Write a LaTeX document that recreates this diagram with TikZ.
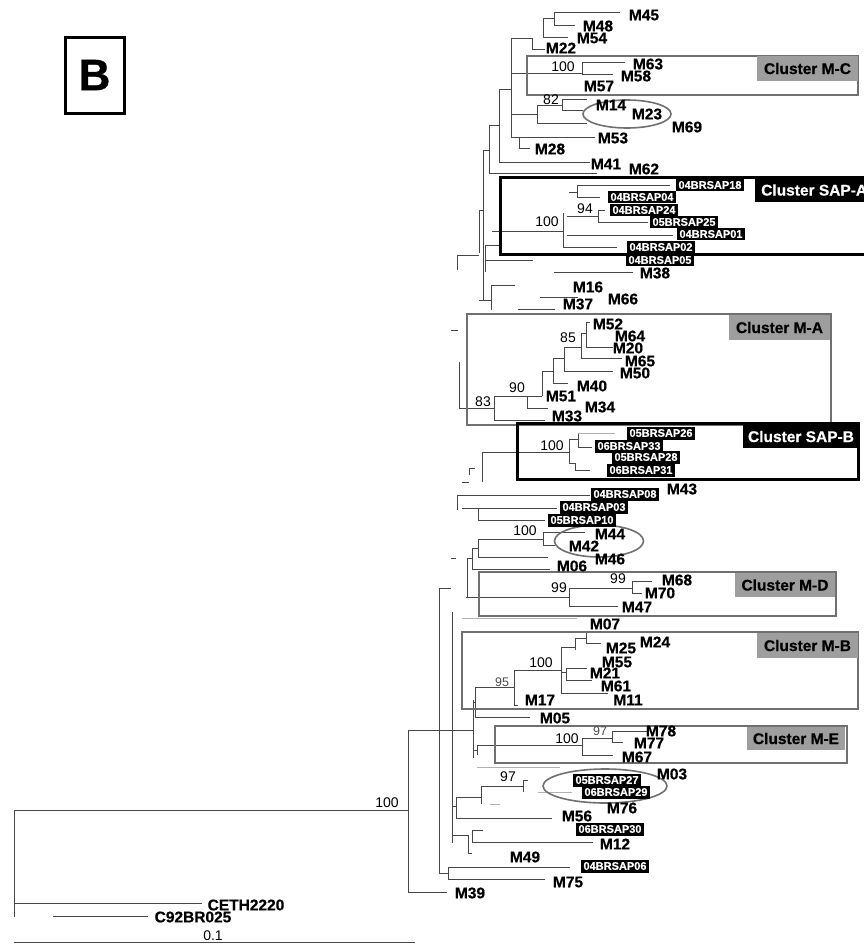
\documentclass[tikz,border=0pt]{standalone}
\usepackage{fontspec}
\setmainfont{Liberation Sans}
\setsansfont{Liberation Sans}[BoldFeatures={FakeBold=0.6}]
\usetikzlibrary{shapes.geometric}
\definecolor{brgray}{HTML}{474747}
\definecolor{boxgray}{HTML}{707070}
\definecolor{lblgray}{HTML}{9E9E9E}

\begin{document}
\begin{tikzpicture}[
        x=1pt, y=-1pt,
        font=\sffamily,
        br/.style={draw=brgray, line width=0.8pt},
        brl/.style={draw=black!30, line width=0.8pt},
        leaf/.style={font=\sffamily\bfseries\fontsize{15.5}{15.5}\selectfont, inner sep=0pt},
        sap/.style={fill=black, text=white, font=\sffamily\bfseries\fontsize{11}{12}\selectfont, inner xsep=2.5pt, inner ysep=2.6pt},
        boot/.style={font=\sffamily\fontsize{14}{14}\selectfont, inner sep=0pt},
        bootsm/.style={font=\sffamily\fontsize{12.5}{12.5}\selectfont, text=black!70, inner sep=0pt},
        mbox/.style={draw=boxgray, line width=2.4pt},
        sapbox/.style={draw=black, line width=3pt},
        mlbl/.style={fill=lblgray, font=\sffamily\bfseries\fontsize{15.5}{15.5}\selectfont, inner sep=0pt, minimum width=101pt, minimum height=25pt},
        saplbl/.style={fill=black, text=white, font=\sffamily\bfseries\fontsize{15.5}{15.5}\selectfont, inner sep=0pt, minimum height=24pt},
        ring/.style={ellipse, draw=boxgray, line width=1.6pt, inner sep=0pt}
    ]
    \useasboundingbox (0,0) rectangle (864,945);
    \clip (0,0) rectangle (864,945);

    % branches
    \foreach \xa/\ya/\xb/\yb in {
        554/12/620/12, 554/12/554/25, 554/25/575/25, 543/18/554/18, 543/18/543/37, 543/37/568/37,
        511/38/532/38, 532/38/532/49, 532/49/545/49, 511/38/511/137, 511/137/595/137, 519/137/519/148, 519/148/530/148,
        511/73/582/73, 582/62/582/74, 582/62/625/62, 582/74/613/74,
        511/114/537/114, 537/105/537/123, 537/123/587/123, 537/105/562/105, 562/99/562/110, 562/99/587/99, 562/110/583/110,
        499/89/511/89, 499/89/499/162, 499/162/590/162, 489/125/499/125, 489/125/489/173, 489/173/597/173,
        483/150/489/150, 483/150/483/300, 479/210/483/210, 479/210/479/253, 457/255/479/255, 457/255/457/270,
        492/231/563/231, 563/213/563/247, 563/247/617/247, 567/216/598/216, 598/210/598/222, 598/222/648/222,
        598/210/605/210, 567/235/673/235, 569/192/577/192, 577/185/577/197, 577/185/670/185, 577/197/600/197,
        485/245/485/272, 485/245/500/245, 485/260/533/260, 554/272/633/272,
        491/285/515/285, 491/285/491/310, 479/300/491/300, 540/297/578/297, 518/309/555/309, 451/330/458/330,
        459/362/459/408, 459/408/494/408, 494/396/494/420, 494/420/545/420, 494/396/527/396, 527/396/527/408,
        527/408/548/408, 527/396/542/396, 542/371/542/396, 542/371/553/371, 553/358/553/383, 553/383/568/383,
        553/358/564/358, 564/347/564/371, 564/371/613/371, 564/347/581/347, 581/333/581/358, 581/358/622/358,
        581/333/586/333, 586/322/586/347, 586/347/613/347, 586/322/590/322,
        482/452/569/452, 482/452/482/482, 569/439/569/463, 569/439/578/439, 578/433/578/447, 578/447/592/447,
        569/463/575/463, 575/463/575/470, 575/470/590/470,
        469/468/475/468, 469/468/469/475, 462/482/469/482,
        457/495/590/495, 457/495/457/510, 462/508/478/508, 478/508/478/520, 478/508/557/508, 478/520/545/520,
        478/539/478/557, 478/539/543/539, 543/532/543/545, 543/532/585/532, 543/545/555/545, 478/557/548/557,
        472/548/472/570, 472/548/478/548, 472/569/550/569, 467/558/467/597, 467/558/472/558, 451/558/456/558,
        466/597/569/597, 569/588/569/606, 569/588/632/588, 632/581/632/593, 632/581/652/581, 632/593/642/593, 569/606/618/606,
        439/588/451/588, 439/588/439/873, 439/730/473/730, 452/612/452/843,
        473/700/473/758, 473/702/475/702, 475/687/475/717, 475/687/514/687, 475/717/530/717, 514/670/514/705,
        514/705/518/705, 514/670/561/670, 561/647/561/693, 561/693/608/693, 561/647/575/647, 575/638/575/650,
        575/638/586/638, 586/633/586/643, 586/643/601/643, 561/672/566/672, 566/668/566/680, 566/668/587/668, 566/680/592/680,
        473/750/477/750, 477/745/477/755, 477/745/582/745, 582/738/582/755, 582/755/613/755, 582/738/612/738,
        612/731/612/742, 612/731/647/731, 612/742/623/742,
        452/806/456/806, 456/797/456/818, 456/797/481/797, 481/786/481/804, 481/786/523/786, 523/780/523/792,
        523/780/528/780, 456/818/552/818,
        452/835/468/835, 468/835/468/853, 468/853/472/853, 472/830/472/842, 472/830/483/830, 472/842/593/842,
        439/873/448/873, 448/867/448/879, 448/867/570/867, 448/879/545/879,
        408/730/439/730, 408/730/408/892, 408/892/447/892, 14/810/408/810, 14/810/14/917, 14/903/202/903, 53/916/148/916,
        14/942/415/942}
        \draw[br] (\xa,\ya) -- (\xb,\yb);
    \foreach \xa/\ya/\xb/\yb in {578/433/615/433, 462/618/577/618, 477/767/560/767, 538/792/572/792, 490/804/500/804}
        \draw[brl] (\xa,\ya) -- (\xb,\yb);

    % cluster frames
    \draw[mbox] (527,56) rectangle (858,95);
    \draw[sapbox] (500,177) rectangle (875,254);
    \draw[mbox] (467,314) rectangle (831,425);
    \draw[sapbox] (517,423) rectangle (858,479);
    \draw[mbox] (479,572) rectangle (836,616);
    \draw[mbox] (462,632) rectangle (858,709);
    \draw[mbox] (495,726) rectangle (847,763);

    \node[ring, minimum width=88pt, minimum height=28pt] (ovA) at (627,114) {};
    \node[ring, minimum width=89pt, minimum height=32pt] (ovB) at (599,541) {};
    \node[ring, minimum width=124pt, minimum height=34pt] (ovC) at (605,786) {};

    \node[mlbl] (lblMC) at (807.5,68.5) {Cluster M-C};
    \node[saplbl, anchor=west, inner xsep=6pt] (lblSA) at (755,190) {Cluster SAP-A};
    \node[mlbl] (lblMA) at (779.5,327.5) {Cluster M-A};
    \node[saplbl, minimum width=116pt, minimum height=23pt] (lblSB) at (801,436.5) {Cluster SAP-B};
    \node[mlbl, minimum width=100pt, minimum height=24pt] (lblMD) at (785,585) {Cluster M-D};
    \node[mlbl] (lblMB) at (807.5,645.5) {Cluster M-B};
    \node[mlbl, minimum width=98pt, minimum height=23pt] (lblME) at (796,738.5) {Cluster M-E};

    % taxa
    \foreach \nm/\xx/\yy in {M45/644/15, M48/598/26, M54/592/38, M22/561/48, M63/648/64, M58/636/76, M57/599/86,
        M14/611/105, M23/647/114, M69/687/127, M53/613/138, M28/550/149, M41/606/164, M62/644/169,
        M38/655/273, M16/588/287, M66/623/299, M37/578/304,
        M52/608/324, M64/630/336, M20/628/348, M65/640/361, M50/635/373, M40/592/386, M51/561/396, M34/600/407, M33/567/416,
        M43/682/489, M44/610/534, M42/584/546, M46/610/559, M06/572/566,
        M68/677/580, M70/660/593, M47/637/607, M07/605/624,
        M24/655/642, M25/621/648, M55/617/662, M21/605/673, M61/616/686, M11/628/700, M17/540/700, M05/555/718,
        M78/661/731, M77/649/743, M67/637/757, M03/672/774, M76/622/808, M56/577/816, M12/615/844,
        M49/525/857, M75/568/882, M39/470/893, CETH2220/246/905, C92BR025/193/917}
        \node[leaf] (\nm) at (\xx,\yy) {\nm};

    \foreach \nm/\xx/\yy in {04BRSAP18/710/185, 04BRSAP04/642/197, 04BRSAP24/644/210, 05BRSAP25/684/222,
        04BRSAP01/711/234, 04BRSAP02/661/247, 04BRSAP05/660/260,
        05BRSAP26/661/433, 06BRSAP33/629/446, 05BRSAP28/646/457, 06BRSAP31/641/470,
        04BRSAP08/625/494, 04BRSAP03/594/507, 05BRSAP10/582/520,
        05BRSAP27/607/780, 06BRSAP29/616/792, 06BRSAP30/610/829, 04BRSAP06/615/866}
        \node[sap] (\nm) at (\xx,\yy) {\nm};

    % bootstrap values
    \foreach \v/\xx/\yy [count=\i] in {100/563/67, 82/551/100, 94/585/209, 100/547/222, 85/568/338, 90/517/388,
        83/483/402, 100/552/446, 100/525/531, 99/559/588, 99/618/579, 100/541/663, 100/567/739, 97/508/777, 100/387/803}
        \node[boot] (bs\i) at (\xx,\yy) {\v};
    \node[bootsm] (bsB) at (502,682) {95};
    \node[bootsm] (bsE) at (600,731) {97};

    \node[boot] (scale) at (213,936) {0.1};
    \node[draw, line width=3pt, minimum width=59pt, minimum height=76pt, inner sep=0pt,
        font=\sffamily\bfseries\fontsize{44}{44}\selectfont] (panel) at (94.5,75) {B};

\end{tikzpicture}
\end{document}
